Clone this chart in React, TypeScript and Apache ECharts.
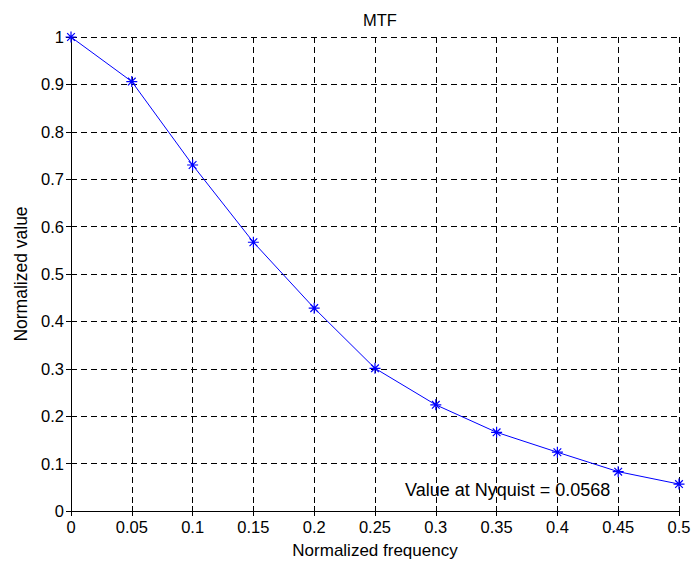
import React, { useEffect, useRef } from "react";
import * as echarts from "echarts";

const freqs = [0, 0.05, 0.1, 0.15, 0.2, 0.25, 0.3, 0.35, 0.4, 0.45, 0.5];
const mtf = [1, 0.906, 0.73, 0.567, 0.428, 0.301, 0.224, 0.166, 0.124, 0.083, 0.0568];
const titleText = "MTF";
const xName = "Normalized frequency";
const yName = "Normalized value";
const noteText = "Value at Nyquist = 0.0568";

const FONT = "Liberation Sans, Arial, Helvetica, sans-serif";
const star = "path://M0,-5L0,5M-5,0L5,0M-3.5,-3.5L3.5,3.5M-3.5,3.5L3.5,-3.5";

export default function App() {
  const ref = useRef<HTMLDivElement>(null);
  useEffect(() => {
    document.body.style.margin = "0";
    const chart = echarts.init(ref.current!, undefined, { renderer: "svg", width: 700, height: 564 });
    const fmt = (v: number) => String(+v.toFixed(2));
    const gridLine = { show: true, lineStyle: { color: "#000", type: [6, 4] as any, width: 1 } };
    const axisLineStyle = { show: true, lineStyle: { color: "#000", width: 1 } };
    const tick = { show: true, inside: true, length: 5, lineStyle: { color: "#000" } };
    const label = { color: "#000", fontSize: 16.5, fontFamily: FONT };
    chart.setOption({
      animation: false,
      backgroundColor: "#fff",
      title: {
        text: titleText,
        left: 375,
        textAlign: "center",
        top: 6,
        textStyle: { fontSize: 16.5, fontWeight: "normal", color: "#000", fontFamily: FONT },
      },
      grid: { left: 71, top: 37, right: 21, bottom: 48.5, containLabel: false },
      xAxis: [
        {
          type: "value",
          min: 0,
          max: 0.5,
          interval: 0.05,
          position: "bottom",
          axisLine: axisLineStyle,
          axisTick: tick,
          splitLine: gridLine,
          axisLabel: { ...label, margin: 7, formatter: fmt },
          name: xName,
          nameLocation: "middle",
          nameGap: 31,
          nameTextStyle: { ...label, fontSize: 17 },
        },
        {
          type: "value",
          min: 0,
          max: 0.5,
          interval: 0.05,
          position: "top",
          axisLine: axisLineStyle,
          axisTick: tick,
          splitLine: { show: false },
          axisLabel: { show: false },
        },
      ],
      yAxis: [
        {
          type: "value",
          min: 0,
          max: 1,
          interval: 0.1,
          position: "left",
          axisLine: axisLineStyle,
          axisTick: tick,
          splitLine: gridLine,
          axisLabel: { ...label, margin: 7, formatter: fmt },
          name: yName,
          nameLocation: "middle",
          nameGap: 41,
          nameTextStyle: { ...label, fontSize: 17.5 },
        },
        {
          type: "value",
          min: 0,
          max: 1,
          interval: 0.1,
          position: "right",
          axisLine: axisLineStyle,
          axisTick: tick,
          splitLine: { show: false },
          axisLabel: { show: false },
        },
      ],
      graphic: [
        {
          type: "text",
          x: 405,
          y: 490,
          style: {
            text: noteText,
            fill: "#000",
            font: `18px ${FONT}`,
            verticalAlign: "middle",
          },
        },
      ],
      series: [
        {
          type: "line",
          data: freqs.map((f, i) => [f, mtf[i]]),
          xAxisIndex: 0,
          yAxisIndex: 0,
          symbol: star,
          symbolSize: 11,
          showAllSymbol: true,
          lineStyle: { color: "#0000ff", width: 1 },
          itemStyle: { color: "#0000ff", borderColor: "#0000ff", borderWidth: 1.2 },
          z: 10,
        },
      ],
    });
    return () => chart.dispose();
  }, []);
  return (
    <div
      ref={ref}
      style={{ position: "fixed", left: 0, top: 0, width: 700, height: 564 }}
    />
  );
}
